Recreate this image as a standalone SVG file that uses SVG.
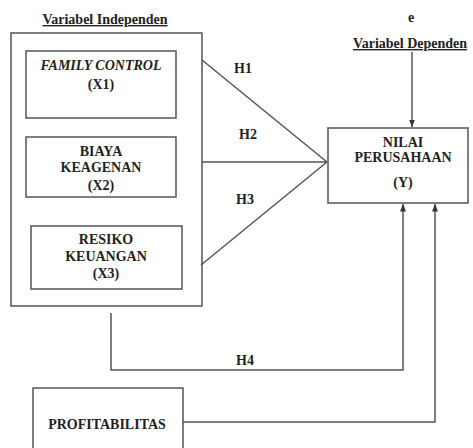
<svg xmlns="http://www.w3.org/2000/svg" width="473" height="448" viewBox="0 0 473 448">
<style>
.box{fill:#fff;stroke:#555;stroke-width:1.5}
.ln{fill:none;stroke:#555;stroke-width:1.5}
text{font-family:'Liberation Serif','DejaVu Serif','Times New Roman',serif;font-weight:bold;font-size:14px;fill:#222;text-anchor:middle}
.u{text-decoration:underline}
</style>
<defs>
<marker id="ah" viewBox="0 0 10 10" refX="10" refY="5" markerWidth="5" markerHeight="5" orient="auto">
<path d="M0,1 L10,5 L0,9 z" fill="#333"/>
</marker>
</defs>
<rect width="473" height="448" fill="#fff"/>
<g id="independen">
<text class="u" x="105" y="24">Variabel Independen</text>
<rect class="box" x="11" y="33" width="191" height="273"/>
</g>
<g id="x1">
<rect class="box" x="26" y="51" width="150" height="67"/>
<text x="101" y="70" font-style="italic">FAMILY CONTROL</text>
<text x="101" y="89">(X1)</text>
</g>
<g id="x2">
<rect class="box" x="26" y="137" width="150" height="60"/>
<text x="101" y="156">BIAYA</text>
<text x="101" y="172">KEAGENAN</text>
<text x="101" y="190">(X2)</text>
</g>
<g id="x3">
<rect class="box" x="31" y="226" width="151" height="63"/>
<text x="106" y="244">RESIKO</text>
<text x="106" y="261">KEUANGAN</text>
<text x="106" y="278">(X3)</text>
</g>
<g id="y">
<rect class="box" x="328" y="128" width="140" height="75"/>
<text x="403" y="147">NILAI</text>
<text x="403" y="162">PERUSAHAAN</text>
<text x="403" y="187">(Y)</text>
</g>
<g id="dependen">
<text x="411" y="22" font-size="10">e</text>
<text class="u" x="410" y="48">Variabel Dependen</text>
</g>
<g id="profitabilitas">
<rect class="box" x="33" y="388" width="150" height="70"/>
<text x="107" y="429">PROFITABILITAS</text>
</g>
<g id="connectors">
<path class="ln" d="M202,60 L327,162 M202,162 L327,162 M201,265 L327,162"/>
<path class="ln" d="M412,52 V127" marker-end="url(#ah)"/>
<path class="ln" d="M111,313 V370 H403 V204" marker-end="url(#ah)"/>
<path class="ln" d="M183,422 H435 V204" marker-end="url(#ah)"/>
<text x="243" y="73">H1</text>
<text x="248" y="139">H2</text>
<text x="245" y="204">H3</text>
<text x="245" y="365">H4</text>
</g>
</svg>
